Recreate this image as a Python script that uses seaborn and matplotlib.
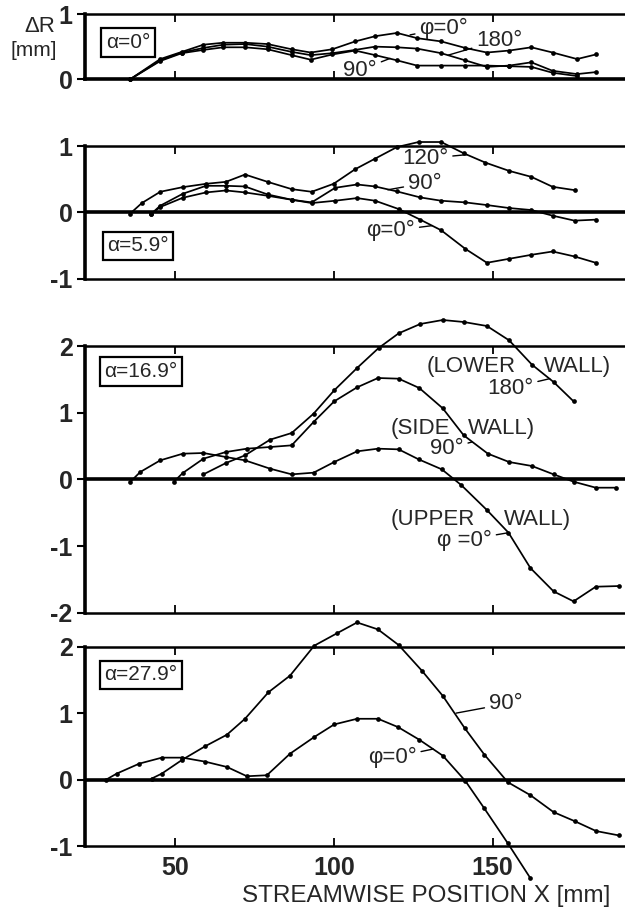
import matplotlib
matplotlib.use("Agg")
import matplotlib.pyplot as plt
import seaborn as sns
import pandas as pd
from matplotlib import font_manager as fm

sns.set_style("white")


def pick(names):
    for n in names:
        try:
            fm.findfont(fm.FontProperties(family=n), fallback_to_default=False)
            return n
        except Exception:
            pass
    return "DejaVu Sans"


FONT = pick(["Liberation Sans Narrow", "DejaVu Sans Condensed", "Liberation Sans"])
plt.rcParams["font.family"] = [FONT, "DejaVu Sans"]
plt.rcParams["axes.unicode_minus"] = False

# ---------------- data (X in mm, dR in mm) ----------------
# alpha = 0 deg
a0_x_phi0 = [35.8, 45.3, 52.1, 58.9, 65.2, 72.0, 79.1, 86.7, 92.7, 99.5, 106.7, 113.0,
             119.9, 126.2, 133.8, 141.4, 148.2, 155.2, 162.2, 168.9, 176.6, 182.5]
a0_y_phi0 = [0.0, 0.31, 0.42, 0.53, 0.56, 0.56, 0.54, 0.46, 0.41, 0.46, 0.58, 0.66,
             0.71, 0.63, 0.58, 0.48, 0.41, 0.44, 0.49, 0.41, 0.31, 0.38]
a0_x_180 = [35.8, 45.3, 52.1, 58.9, 65.2, 72.0, 79.1, 86.7, 92.7, 99.5, 106.7, 113.0,
            119.9, 126.2, 133.8, 141.4, 148.2, 155.2, 162.2, 168.9, 176.6, 182.5]
a0_y_180 = [0.0, 0.29, 0.41, 0.48, 0.53, 0.54, 0.50, 0.42, 0.37, 0.40, 0.45, 0.50,
            0.49, 0.47, 0.40, 0.29, 0.19, 0.21, 0.26, 0.13, 0.08, 0.11]
a0_x_90 = [35.8, 45.3, 52.1, 58.9, 65.2, 72.0, 79.1, 86.7, 92.7, 99.5, 106.7, 113.0,
           119.9, 126.2, 133.8, 141.4, 148.2, 155.2, 162.2, 168.9, 176.6]
a0_y_90 = [0.0, 0.28, 0.40, 0.45, 0.49, 0.49, 0.46, 0.37, 0.30, 0.38, 0.44, 0.37,
           0.29, 0.21, 0.21, 0.21, 0.21, 0.20, 0.19, 0.10, 0.05]

# alpha = 5.9 deg
a59_x_120 = [35.8, 39.5, 45.3, 52.4, 59.7, 66.0, 72.0, 79.1, 86.7, 93.0, 99.9, 106.7,
             113.0, 119.9, 126.7, 133.8, 140.9, 147.7, 155.2, 162.2, 168.9, 175.8]
a59_y_120 = [-0.02, 0.14, 0.31, 0.38, 0.43, 0.46, 0.57, 0.46, 0.35, 0.31, 0.43, 0.65,
             0.81, 0.985, 1.06, 1.06, 0.89, 0.75, 0.625, 0.535, 0.385, 0.335]
a59_x_90 = [42.3, 45.3, 52.4, 59.7, 66.0, 72.0, 79.1, 86.7, 93.0, 100.4, 107.3, 113.0,
            119.9, 127.2, 133.8, 141.4, 148.2, 155.2, 162.2, 168.9, 175.8, 182.5]
a59_y_90 = [-0.03, 0.10, 0.28, 0.40, 0.40, 0.39, 0.27, 0.19, 0.15, 0.37, 0.42, 0.39,
            0.315, 0.225, 0.175, 0.15, 0.11, 0.065, 0.035, -0.05, -0.125, -0.11]
a59_x_phi0 = [42.3, 45.3, 52.4, 59.7, 66.0, 72.0, 79.1, 86.7, 93.0, 100.4, 107.3, 113.0,
              120.4, 127.2, 133.8, 141.4, 148.2, 155.2, 162.2, 168.9, 175.8, 182.5]
a59_y_phi0 = [-0.03, 0.08, 0.22, 0.30, 0.33, 0.30, 0.25, 0.19, 0.14, 0.175, 0.215, 0.175,
              0.05, -0.11, -0.27, -0.55, -0.76, -0.70, -0.64, -0.59, -0.665, -0.76]

# alpha = 16.9 deg
a169_x_phi0 = [35.8, 39.0, 45.3, 52.4, 58.9, 66.0, 72.0, 79.9, 86.7, 93.6, 100.1, 107.3,
               113.9, 120.4, 126.7, 134.0, 140.1, 148.2, 155.0, 161.9, 169.2, 175.5, 182.5, 189.9]
a169_y_phi0 = [-0.04, 0.11, 0.285, 0.385, 0.395, 0.335, 0.285, 0.16, 0.075, 0.10, 0.26, 0.42,
               0.46, 0.45, 0.30, 0.15, -0.085, -0.46, -0.80, -1.33, -1.68, -1.83, -1.61, -1.60]
a169_x_90 = [49.5, 52.4, 58.9, 66.0, 72.6, 79.9, 86.7, 93.6, 100.1, 107.3, 113.9, 120.4,
             126.9, 134.3, 140.9, 148.5, 155.2, 162.4, 169.2, 175.5, 182.5, 188.8]
a169_y_90 = [-0.04, 0.095, 0.31, 0.41, 0.46, 0.485, 0.51, 0.86, 1.17, 1.38, 1.52, 1.51,
             1.37, 1.065, 0.66, 0.385, 0.26, 0.20, 0.075, -0.035, -0.125, -0.125]
a169_x_180 = [58.9, 66.0, 72.0, 79.9, 86.7, 93.6, 100.1, 107.3, 114.1, 120.4, 127.2, 134.3,
              140.9, 148.2, 155.2, 162.4, 169.2, 175.5]
a169_y_180 = [0.075, 0.245, 0.36, 0.595, 0.695, 0.985, 1.335, 1.67, 1.97, 2.19, 2.33, 2.39,
              2.36, 2.30, 2.085, 1.72, 1.46, 1.17]

# alpha = 27.9 deg
a279_x_phi0 = [28.3, 31.6, 38.7, 45.8, 52.3, 59.4, 66.3, 72.6, 78.9, 86.2, 93.8, 100.1,
               107.3, 113.9, 120.2, 126.9, 134.3, 141.4, 147.4, 154.8, 161.9]
a279_y_phi0 = [0.0, 0.09, 0.24, 0.33, 0.33, 0.27, 0.19, 0.05, 0.065, 0.39, 0.64, 0.83,
               0.915, 0.915, 0.79, 0.60, 0.36, -0.02, -0.435, -0.96, -1.485]
a279_x_90 = [42.6, 45.8, 52.3, 59.4, 66.3, 72.0, 79.4, 86.2, 93.8, 100.9, 107.3, 113.9,
             120.4, 127.7, 134.3, 141.2, 147.4, 154.8, 161.9, 169.2, 175.8, 182.6, 189.7]
a279_y_90 = [0.015, 0.09, 0.30, 0.50, 0.675, 0.915, 1.315, 1.565, 2.015, 2.20, 2.365, 2.26,
             2.025, 1.64, 1.26, 0.775, 0.375, -0.04, -0.235, -0.49, -0.625, -0.775, -0.84]

XMIN, XMAX = 21.6, 191.7
X_TICKS = [50, 100, 150]

# ---------------- figure ----------------
W, H = 625, 909
fig = plt.figure(figsize=(W / 100, H / 100), dpi=100)
L, R = 85, 625


def px(x, y):
    return x / W, 1 - y / H


def add_ax(top, bottom):
    return fig.add_axes([L / W, 1 - bottom / H, (R - L) / W, (bottom - top) / H])


TICKFS = 18


def style(ax, ylo, yhi, yticks, xlabels=False):
    ax.set_xlim(XMIN, XMAX)
    ax.set_ylim(ylo, yhi)
    ax.set_facecolor("none")
    ax.spines["right"].set_visible(False)
    ax.spines["left"].set_linewidth(2.6)
    ax.spines["top"].set_linewidth(1.8)
    ax.spines["bottom"].set_linewidth(2.6 if ylo == 0 else 1.8)
    for s in ax.spines.values():
        s.set_color("black")
    if ylo < 0 < yhi:
        ax.axhline(0, color="black", lw=2.6, zorder=1)
    ax.set_xticks(X_TICKS)
    ax.set_yticks(yticks)
    ax.set_xlabel("")
    ax.set_ylabel("")
    ax.tick_params(axis="x", direction="in", top=True, bottom=True, length=6, width=1.3,
                   labelbottom=xlabels, labelsize=TICKFS, pad=7, color="black")
    ax.tick_params(axis="y", direction="out", length=6, width=1.5, labelsize=TICKFS,
                   pad=3, color="black", left=True)
    for lab in ax.get_xticklabels() + ax.get_yticklabels():
        lab.set_fontweight("bold")


def draw(ax, xs, ys):
    df = pd.DataFrame({"X": xs, "dR": ys})
    sns.lineplot(data=df, x="X", y="dR", ax=ax, color="black", lw=1.25, marker="o",
                 markersize=3.4, markeredgewidth=0, sort=False, clip_on=False,
                 errorbar=None, zorder=3)


def label(ax, text, xy, xytext, ha):
    ax.annotate(text, xy=xy, xytext=xytext, ha=ha, va="center", fontsize=16,
                annotation_clip=False,
                arrowprops=dict(arrowstyle="-", lw=1.0, color="black", shrinkA=1, shrinkB=0))


def box(x, y, text):
    fig.text(*px(x, y), text, ha="center", va="center", fontsize=15,
             bbox=dict(boxstyle="square,pad=0.22", fc="white", ec="black", lw=1.6))


# Panel 1: alpha = 0
ax1 = add_ax(14, 79.3)
for xs, ys in [(a0_x_phi0, a0_y_phi0), (a0_x_180, a0_y_180), (a0_x_90, a0_y_90)]:
    draw(ax1, xs, ys)
style(ax1, 0, 1, [0, 1])
label(ax1, "φ=0°", (124.0, 0.68), (127.0, 0.78), "left")
label(ax1, "180°", (136.0, 0.37), (144.9, 0.60), "left")
label(ax1, "90°", (117.7, 0.32), (113.5, 0.14), "right")
box(128, 42.5, "α=0°")

# Panel 2: alpha = 5.9
ax2 = add_ax(146, 278.7)
for xs, ys in [(a59_x_120, a59_y_120), (a59_x_90, a59_y_90), (a59_x_phi0, a59_y_phi0)]:
    draw(ax2, xs, ys)
style(ax2, -1, 1, [-1, 0, 1])
label(ax2, "120°", (142.0, 0.87), (136.0, 0.81), "right")
label(ax2, "90°", (117.0, 0.34), (123.4, 0.44), "left")
label(ax2, "φ=0°", (131.0, -0.20), (125.5, -0.28), "right")
box(138, 245.7, "α=5.9°")

# Panel 3: alpha = 16.9
ax3 = add_ax(346, 612.7)
for xs, ys in [(a169_x_phi0, a169_y_phi0), (a169_x_90, a169_y_90), (a169_x_180, a169_y_180)]:
    draw(ax3, xs, ys)
style(ax3, -2, 2, [-2, -1, 0, 1, 2])
for t, xx, yy, ha in [("(LOWER", 157.4, 1.70, "right"), ("WALL)", 166.3, 1.70, "left"),
                      ("(SIDE", 136.6, 0.76, "right"), ("WALL)", 142.3, 0.76, "left"),
                      ("(UPPER", 144.4, -0.60, "right"), ("WALL)", 153.4, -0.60, "left")]:
    ax3.text(xx, yy, t, ha=ha, va="center", fontsize=16)
label(ax3, "180°", (168.0, 1.51), (162.8, 1.37), "right")
label(ax3, "90°", (143.5, 0.56), (140.8, 0.46), "right")
label(ax3, "φ =0°", (155.0, -0.80), (149.7, -0.915), "right")
box(141, 371.5, "α=16.9°")

# Panel 4: alpha = 27.9
ax4 = add_ax(646.7, 846)
for xs, ys in [(a279_x_phi0, a279_y_phi0), (a279_x_90, a279_y_90)]:
    draw(ax4, xs, ys)
style(ax4, -1, 2, [-1, 0, 1, 2], xlabels=True)
label(ax4, "90°", (138.5, 1.00), (148.9, 1.14), "left")
label(ax4, "φ=0°", (131.3, 0.46), (126.0, 0.33), "right")
box(141, 675, "α=27.9°")

# axis labels
fig.text(*px(426, 896), "STREAMWISE POSITION X [mm]", ha="center", va="center", fontsize=17.5)
fig.text(*px(55, 26), "ΔR", ha="right", va="center", fontsize=16)
fig.text(*px(57, 51), "[mm]", ha="right", va="center", fontsize=15)

fig.savefig("out.png", dpi=100)
